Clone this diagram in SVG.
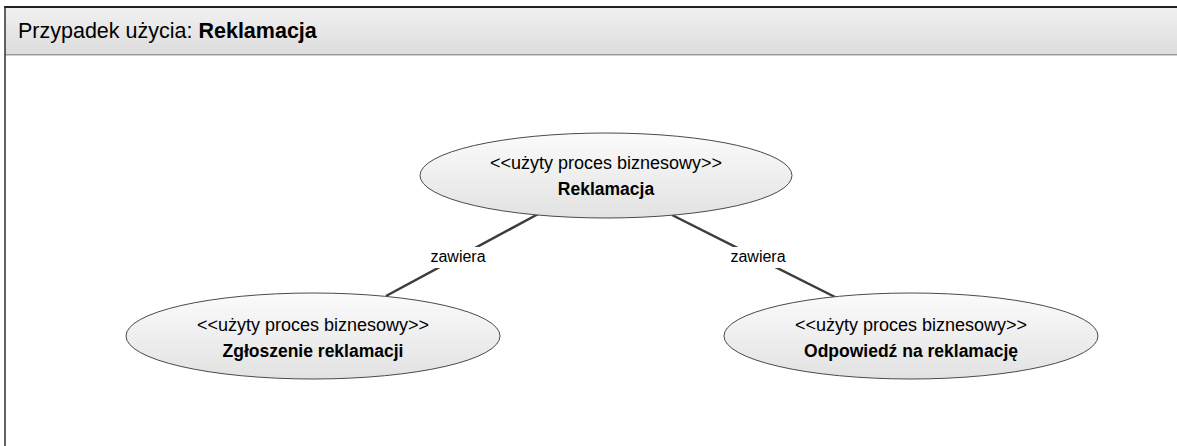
<svg xmlns="http://www.w3.org/2000/svg" width="1177" height="446" viewBox="0 0 1177 446">
<defs>
<linearGradient id="hdr" x1="0" y1="0" x2="0" y2="1">
<stop offset="0" stop-color="#f1f1f1"/>
<stop offset="1" stop-color="#dcdcdc"/>
</linearGradient>
<linearGradient id="uc" x1="0" y1="0" x2="0" y2="1">
<stop offset="0" stop-color="#fbfbfb"/>
<stop offset="1" stop-color="#e2e2e2"/>
</linearGradient>
</defs>
<style>
.t{font-family:"Liberation Sans",Arial,sans-serif;fill:#000}
.st{font-size:18px;text-anchor:middle}
.nm{font-size:17.5px;font-weight:bold;text-anchor:middle}
.lb{font-size:16px;text-anchor:middle}
.uc{fill:url(#uc);stroke:#4a4a4a;stroke-width:1}
.cn{stroke:#3c3c3c;stroke-width:2.5;fill:none}
</style>
<rect x="0" y="0" width="1177" height="446" fill="#ffffff"/>
<g id="frame">
<rect x="5" y="7" width="1180" height="48" fill="url(#hdr)"/>
<line x1="5" y1="54.5" x2="1177" y2="54.5" stroke="#9a9a9a" stroke-width="1"/>
<line x1="5" y1="55.5" x2="1177" y2="55.5" stroke="#d0d0d0" stroke-width="1"/>
<line x1="4" y1="7" x2="1177" y2="7" stroke="#202020" stroke-width="2"/>
<line x1="5" y1="6" x2="5" y2="446" stroke="#303030" stroke-width="1.5"/>
<text class="t" x="18" y="38" font-size="21.5px">Przypadek użycia: <tspan font-weight="bold">Reklamacja</tspan></text>
</g>
<g id="connectors">
<line class="cn" x1="386" y1="296" x2="540" y2="213"/>
<line class="cn" x1="835" y1="297" x2="672" y2="215"/>
<rect x="428" y="247" width="60" height="21" fill="#ffffff"/>
<text class="t lb" x="458" y="262">zawiera</text>
<rect x="728" y="247" width="60" height="21" fill="#ffffff"/>
<text class="t lb" x="758" y="262">zawiera</text>
</g>
<g id="uc-reklamacja">
<ellipse class="uc" cx="606" cy="175.5" rx="186" ry="42.5"/>
<text class="t st" x="606" y="169">&lt;&lt;użyty proces biznesowy&gt;&gt;</text>
<text class="t nm" x="606" y="195">Reklamacja</text>
</g>
<g id="uc-zgloszenie">
<ellipse class="uc" cx="313" cy="336" rx="187" ry="43"/>
<text class="t st" x="313" y="331">&lt;&lt;użyty proces biznesowy&gt;&gt;</text>
<text class="t nm" x="313" y="357">Zgłoszenie reklamacji</text>
</g>
<g id="uc-odpowiedz">
<ellipse class="uc" cx="911" cy="336" rx="187" ry="43"/>
<text class="t st" x="911" y="331">&lt;&lt;użyty proces biznesowy&gt;&gt;</text>
<text class="t nm" x="911" y="357">Odpowiedź na reklamację</text>
</g>
</svg>
